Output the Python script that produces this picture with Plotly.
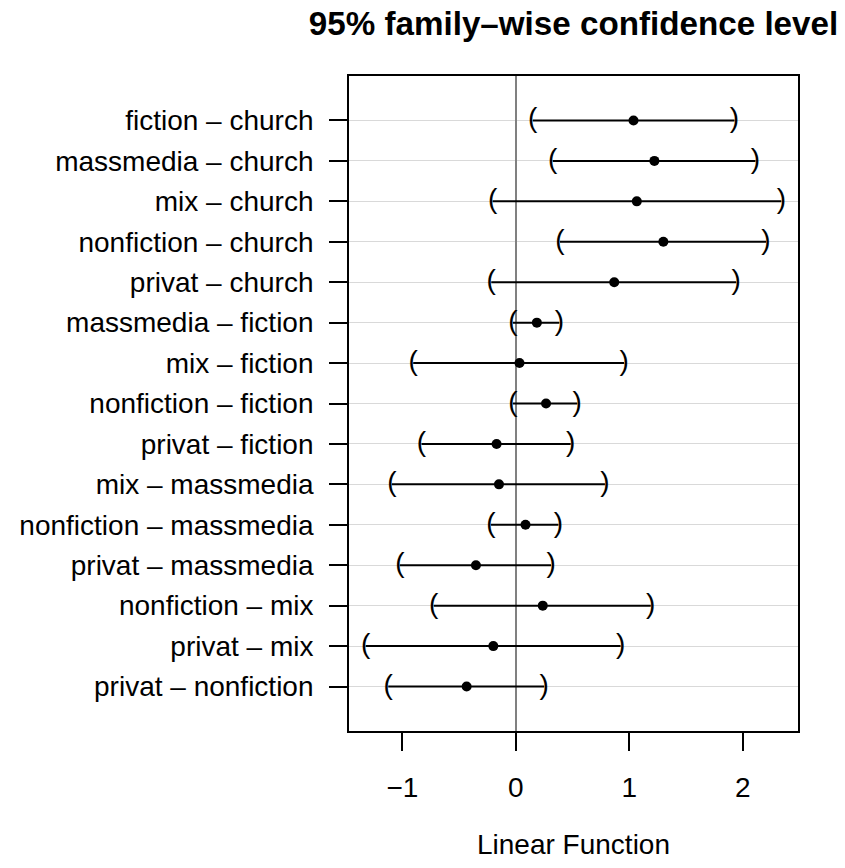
import plotly.graph_objects as go

comparisons = [
    "fiction – church", "massmedia – church", "mix – church", "nonfiction – church",
    "privat – church", "massmedia – fiction", "mix – fiction", "nonfiction – fiction",
    "privat – fiction", "mix – massmedia", "nonfiction – massmedia", "privat – massmedia",
    "nonfiction – mix", "privat – mix", "privat – nonfiction",
]
estimate = [1.037, 1.221, 1.066, 1.300, 0.867, 0.185, 0.032, 0.266, -0.170, -0.149,
            0.085, -0.352, 0.237, -0.199, -0.434]
lower = [0.149, 0.325, -0.205, 0.389, -0.217, -0.026, -0.905, -0.026, -0.832, -1.093,
         -0.220, -1.023, -0.724, -1.324, -1.125]
upper = [1.927, 2.112, 2.340, 2.205, 1.942, 0.383, 0.954, 0.541, 0.483, 0.785,
         0.375, 0.310, 1.189, 0.923, 0.249]
x_ticks = [-1, 0, 1, 2]
x_tick_labels = ["−1", "0", "1", "2"]

n = len(comparisons)
ypos = [n - i for i in range(n)]

FONT = "Liberation Sans, Arial, Helvetica, sans-serif"
FS = 28
W, H = 837, 852

seg_x, seg_y = [], []
for lo, hi, y in zip(lower, upper, ypos):
    seg_x += [lo, hi, None]
    seg_y += [y, y, None]

fig = go.Figure()
fig.add_trace(go.Scatter(x=seg_x, y=seg_y, mode="lines",
                         line=dict(color="black", width=2), hoverinfo="skip", showlegend=False))
fig.add_trace(go.Scatter(x=lower, y=ypos, mode="text", text=["("] * n,
                         textposition="middle center",
                         textfont=dict(family=FONT, size=FS, color="black"), showlegend=False))
fig.add_trace(go.Scatter(x=upper, y=ypos, mode="text", text=[")"] * n,
                         textposition="middle center",
                         textfont=dict(family=FONT, size=FS, color="black"), showlegend=False))
fig.add_trace(go.Scatter(x=estimate, y=ypos, mode="markers",
                         marker=dict(color="black", size=10), showlegend=False))

fig.update_layout(
    width=W, height=H,
    margin=dict(l=341, r=47, t=68, b=129),
    paper_bgcolor="white", plot_bgcolor="white",
    font=dict(family=FONT, size=FS, color="black"),
    title=dict(text="<b>95% family–wise confidence level</b>", x=0.5, xref="paper",
               y=1 - 15 / H, yref="container", yanchor="middle", xanchor="center",
               font=dict(family=FONT, size=33.2, color="black")),
    showlegend=False,
)
fig.update_xaxes(
    range=[-1.471, 2.487], tickvals=x_ticks, ticktext=x_tick_labels,
    ticks="outside", ticklen=18, tickwidth=1.5, tickcolor="black",
    showline=True, linecolor="black", linewidth=1.8, mirror=True,
    showgrid=False, zeroline=True, zerolinecolor="#808080", zerolinewidth=1.6,
    tickfont=dict(family=FONT, size=FS, color="black"),
    ticklabelstandoff=12, automargin=False,
    title=dict(text="Linear Function", font=dict(family=FONT, size=FS, color="black"), standoff=42),
)
fig.update_yaxes(
    range=[-0.1, n + 1.1], tickvals=ypos, ticktext=comparisons,
    ticks="outside", ticklen=18, tickwidth=1.5, tickcolor="black",
    showline=True, linecolor="black", linewidth=1.8, mirror=True,
    showgrid=True, gridcolor="#d9d9d9", gridwidth=1, zeroline=False,
    tickfont=dict(family=FONT, size=FS, color="black"),
    ticklabelstandoff=10, automargin=False,
)

fig.write_html("out.html")
